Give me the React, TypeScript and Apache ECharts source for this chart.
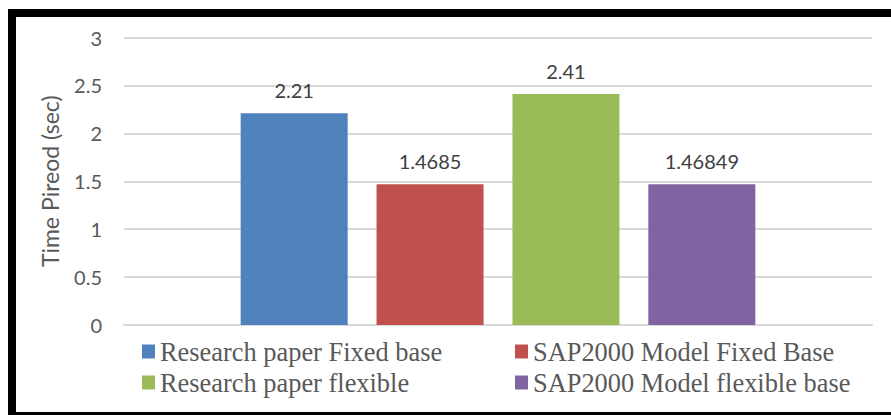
import React, { useEffect, useRef } from "react";
import * as echarts from "echarts";

const categories = [""];
const seriesNames = [
  "Research paper Fixed base",
  "SAP2000 Model Fixed Base",
  "Research paper flexible",
  "SAP2000 Model flexible base",
];
const seriesValues = [2.21, 1.4685, 2.41, 1.46849];
const seriesLabels = ["2.21", "1.4685", "2.41", "1.46849"];
const seriesColors = ["#4F81BD", "#C0504D", "#9BBB59", "#8064A2"];
const yTicks = { min: 0, max: 3, interval: 0.5 };
const yAxisName = "Time Pireod (sec)";

export default function App() {
  const ref = useRef<HTMLDivElement>(null);
  useEffect(() => {
    if (!ref.current) return;
    const chart = echarts.init(ref.current, undefined, { renderer: "svg" });
    chart.setOption({
      animation: false,
      backgroundColor: "#ffffff",
      grid: { left: 124, right: 19, top: 37.5, bottom: 90 },
      xAxis: {
        type: "category",
        data: categories,
        axisLine: { lineStyle: { color: "#D9D9D9", width: 2 } },
        axisTick: { show: false },
        axisLabel: { show: false },
      },
      yAxis: {
        type: "value",
        min: yTicks.min,
        max: yTicks.max,
        interval: yTicks.interval,
        name: yAxisName,
        nameLocation: "middle",
        nameGap: 63,
        nameTextStyle: { fontFamily: "Lato", fontSize: 23, color: "#595959" },
        axisLine: { show: false },
        axisTick: { show: false },
        axisLabel: { fontFamily: "Lato", fontSize: 20, color: "#595959", margin: 22 },
        splitLine: { lineStyle: { color: "#D9D9D9", width: 2 } },
      },
      legend: {
        left: 142,
        top: 336,
        width: 800,
        padding: 0,
        itemGap: 0,
        itemWidth: 13,
        itemHeight: 14,
        icon: "rect",
        data: seriesNames,
        textStyle: {
          fontFamily: "Liberation Serif",
          fontSize: 26.4,
          color: "#595959",
          width: 355,
          lineHeight: 31,
          overflow: "none",
        },
      },
      graphic: [
        { type: "rect", shape: { x: 8, y: 9, width: 883, height: 8 }, style: { fill: "#000" } },
        { type: "rect", shape: { x: 8, y: 9, width: 8, height: 406 }, style: { fill: "#000" } },
        { type: "rect", shape: { x: 8, y: 412, width: 883, height: 3 }, style: { fill: "#000" } },
      ],
      series: seriesNames.map((name, i) => ({
        name,
        type: "bar",
        data: [seriesValues[i]],
        barWidth: 107,
        barGap: "27%",
        itemStyle: { color: seriesColors[i] },
        label: {
          show: true,
          position: "top",
          distance: 13,
          formatter: () => seriesLabels[i],
          fontFamily: "Lato",
          fontSize: 20,
          color: "#404040",
        },
      })),
    });
    return () => chart.dispose();
  }, []);
  return (
    <div
      ref={ref}
      style={{ position: "fixed", left: 0, top: 0, width: 891, height: 415 }}
    />
  );
}
